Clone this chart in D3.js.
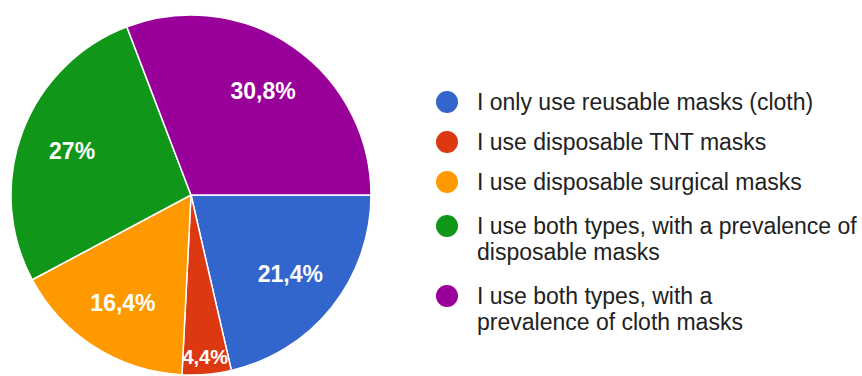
<!DOCTYPE html>
<html>
<head>
<meta charset="utf-8">
<script src="https://cdn.jsdelivr.net/npm/d3@7"></script>
<style>
  html, body { margin: 0; padding: 0; background: #fff; }
  svg { display: block; }
</style>
</head>
<body>
<svg id="chart" width="862" height="376"></svg>
<script>
const categories = [
  "I only use reusable masks (cloth)",
  "I use disposable TNT masks",
  "I use disposable surgical masks",
  "I use both types, with a prevalence of disposable masks",
  "I use both types, with a prevalence of cloth masks"
];
const legendLines = [
  ["I only use reusable masks (cloth)"],
  ["I use disposable TNT masks"],
  ["I use disposable surgical masks"],
  ["I use both types, with a prevalence of", "disposable masks"],
  ["I use both types, with a", "prevalence of cloth masks"]
];
const values = [21.4, 4.4, 16.4, 27, 30.8];
const valueLabels = ["21,4%", "4,4%", "16,4%", "27%", "30,8%"];
const colors = ["#3366cc", "#dc3912", "#ff9900", "#109618", "#990099"];

const svg = d3.select("#chart");
const cx = 191, cy = 195, r = 180;
const font = "Arial, 'Liberation Sans', sans-serif";

const pie = d3.pie().sort(null).value(d => d)
  .startAngle(Math.PI / 2).endAngle(Math.PI / 2 + 2 * Math.PI);
const arcs = pie(values);
const arc = d3.arc().innerRadius(0).outerRadius(r);

const g = svg.append("g").attr("transform", `translate(${cx},${cy})`);
g.selectAll("path.slice").data(arcs).enter().append("path")
  .attr("class", "slice")
  .attr("d", arc)
  .attr("fill", (d, i) => colors[i])
  .attr("stroke", "#fff")
  .attr("stroke-width", 1.5);

const labelArc = d3.arc().innerRadius(0).outerRadius(2 * 127);
const smallLabelArc = d3.arc().innerRadius(0).outerRadius(2 * 162);
g.selectAll("text.lbl").data(arcs).enter().append("text")
  .attr("class", "lbl")
  .attr("transform", d => {
    const small = (d.endAngle - d.startAngle) < 0.35;
    const c = (small ? smallLabelArc : labelArc).centroid(d);
    return `translate(${c[0]},${c[1]})`;
  })
  .attr("text-anchor", "middle")
  .attr("dy", "0.36em")
  .attr("fill", "#fff")
  .attr("font-family", font)
  .attr("font-weight", "bold")
  .attr("font-size", d => (d.endAngle - d.startAngle) < 0.35 ? 20 : 23)
  .text((d, i) => valueLabels[i]);

// Legend
const legendY = [102, 142, 182, 226, 296];
const lg = svg.append("g");
const items = lg.selectAll("g.item").data(categories).enter().append("g")
  .attr("class", "item")
  .attr("transform", (d, i) => `translate(447,${legendY[i]})`);
items.append("circle").attr("r", 11).attr("fill", (d, i) => colors[i]);
items.append("text")
  .attr("x", 30)
  .attr("font-family", font)
  .attr("font-size", 23)
  .attr("fill", "#222")
  .selectAll("tspan").data((d, i) => legendLines[i]).enter().append("tspan")
  .attr("x", 30)
  .attr("y", (d, j) => j * 26)
  .attr("dy", "0.36em")
  .text(d => d);
</script>
</body>
</html>
